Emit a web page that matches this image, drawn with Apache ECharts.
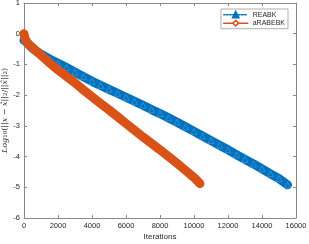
<!DOCTYPE html>
<html>
<head>
<meta charset="utf-8">
<script src="https://cdn.jsdelivr.net/npm/echarts@6/dist/echarts.min.js"></script>
<style>
html,body{margin:0;padding:0;background:#fff;}
#c{width:309px;height:244px;}
</style>
</head>
<body>
<div id="c"></div>
<script>
// Data
const seriesNames = ['REABK', 'aRABEBK'];
const iterREABK = [0, 100, 200, 400, 600, 800, 1000, 1500, 2000, 2500, 3000, 3500, 4000, 4500, 5000, 5500, 6000, 6500, 7000, 7500, 8000, 8500, 9000, 9500, 10000, 10500, 11000, 11500, 12000, 12500, 13000, 13500, 14000, 14500, 15000, 15500];
const valREABK  = [-0.22, -0.2, -0.3, -0.42, -0.52, -0.6, -0.67, -0.82, -0.96, -1.1, -1.25, -1.4, -1.55, -1.68, -1.81, -1.94, -2.07, -2.2, -2.33, -2.47, -2.6, -2.74, -2.88, -3.03, -3.18, -3.33, -3.48, -3.63, -3.78, -3.94, -4.09, -4.24, -4.4, -4.56, -4.72, -4.92];
const iterARABEBK = [0, 50, 100, 200, 400, 600, 800, 1000, 1500, 2000, 2500, 3000, 3500, 4000, 4500, 5000, 5500, 6000, 6500, 7000, 7500, 8000, 8500, 9000, 9500, 10000, 10350];
const valARABEBK  = [0.0, -0.12, -0.2, -0.3, -0.4, -0.5, -0.6, -0.7, -0.95, -1.18, -1.39, -1.6, -1.83, -2.05, -2.27, -2.48, -2.7, -2.92, -3.14, -3.36, -3.57, -3.78, -4.0, -4.22, -4.45, -4.68, -4.88];
const xTicks = {min: 0, max: 16000, interval: 2000};
const yTicks = {min: -6, max: 1, interval: 1};

const FONT = '"Liberation Sans", Arial, Helvetica, sans-serif';
const BLUE = '#0072BD';
const ORANGE = '#D95319';
const AX = '#8a8a8a';

function pairs(xs, ys){ return xs.map((x,i)=>[x, ys[i]]); }

const chart = echarts.init(document.getElementById('c'), null, {renderer:'canvas'});
const axisCommon = {
  axisLine:{show:true, onZero:false, lineStyle:{color:AX, width:1}},
  axisTick:{show:true, inside:true, length:3, lineStyle:{color:AX, width:1}},
  splitLine:{show:false},
};
chart.setOption({
  animation:false,
  backgroundColor:'#fff',
  grid:{left:24, right:13, top:3, bottom:26, containLabel:false, outerBoundsMode:'none'},
  legend:{
    orient:'vertical', right:21, top:9,
    backgroundColor:'#fff', borderColor:'#9a9a9a', borderWidth:0.8,
    padding:[2,3,2,2], itemGap:1, itemWidth:24, itemHeight:7,
    textStyle:{fontFamily:FONT, fontSize:7, color:'#262626', padding:[0,0,0,0]},
    data:[
      {name:seriesNames[0], itemStyle:{color:BLUE, borderColor:BLUE}, lineStyle:{width:1.5, type:[1.5,1.5], color:BLUE}},
      {name:seriesNames[1], itemStyle:{color:'#fff', borderColor:ORANGE, borderWidth:1.5}, lineStyle:{width:1.5, type:'solid', color:ORANGE}}
    ]
  },
  xAxis:[
    Object.assign({type:'value', position:'bottom', min:xTicks.min, max:xTicks.max, interval:xTicks.interval,
      name:'Iterations', nameLocation:'middle', nameGap:15, nameMoveOverlap:false,
      nameTextStyle:{fontFamily:FONT, fontSize:8, color:'#262626'},
      axisLabel:{fontFamily:FONT, fontSize:7.5, color:'#262626', margin:4, formatter:(v)=>String(v)}}, axisCommon),
    Object.assign({type:'value', position:'top', min:xTicks.min, max:xTicks.max, interval:xTicks.interval,
      axisLabel:{show:false}}, axisCommon)
  ],
  yAxis:[
    Object.assign({type:'value', position:'left', min:yTicks.min, max:yTicks.max, interval:yTicks.interval,
      name:'{i|Log}{s|10}{n|(||}{i|x}{n| − }{i|x̂}{n|||}{s|2}{n|/||}{i|x̂}{n|||}{s|2}{n|)}',
      nameLocation:'middle', nameRotate:90, nameGap:15, nameMoveOverlap:false,
      nameTextStyle:{fontFamily:FONT, fontSize:8, color:'#262626',
        rich:{
          i:{fontFamily:'"DejaVu Serif", serif', fontStyle:'italic', fontSize:8, color:'#262626'},
          n:{fontFamily:'"DejaVu Serif", serif', fontSize:8, color:'#262626'},
          s:{fontFamily:'"DejaVu Serif", serif', fontSize:5.5, color:'#262626', verticalAlign:'bottom', padding:[3,0,0,0]}
        }},
      axisLabel:{fontFamily:FONT, fontSize:7.5, color:'#262626', margin:4, formatter:(v)=>String(v)}}, axisCommon),
    Object.assign({type:'value', position:'right', min:yTicks.min, max:yTicks.max, interval:yTicks.interval,
      axisLabel:{show:false}}, axisCommon)
  ],
  series:[
    {
      name:seriesNames[0], type:'line', xAxisIndex:0, yAxisIndex:0,
      data:pairs(iterREABK, valREABK),
      showSymbol:true, symbol:'triangle', symbolSize:6,
      itemStyle:{color:BLUE, borderColor:'#3d96d6', borderWidth:0.8},
      lineStyle:{color:BLUE, width:9, cap:'round', join:'round'},
      z:2
    },
    {
      name:seriesNames[1], type:'line', xAxisIndex:0, yAxisIndex:0,
      data:pairs(iterARABEBK, valARABEBK),
      showSymbol:true, symbol:'diamond', symbolSize:7,
      itemStyle:{color:ORANGE, borderColor:ORANGE, borderWidth:0.5},
      lineStyle:{color:ORANGE, width:9, cap:'round', join:'round'},
      z:3
    }
  ]
});
</script>
</body>
</html>
